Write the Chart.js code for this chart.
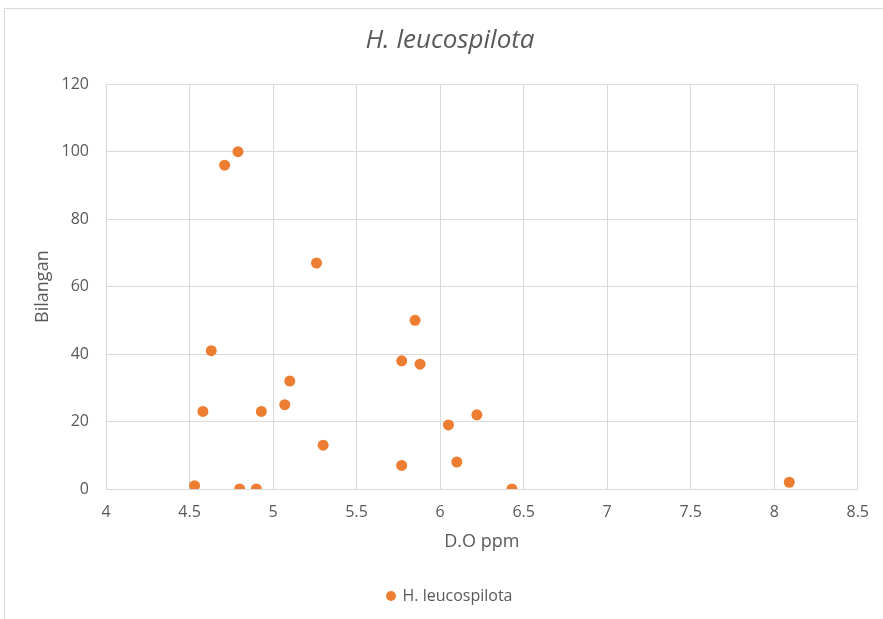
<!DOCTYPE html>
<html>
<head>
<meta charset="utf-8">
<script src="https://cdn.jsdelivr.net/npm/chart.js@4.4.1/dist/chart.umd.min.js"></script>
<style>
html,body{margin:0;padding:0;background:#fff;}
#wrap{position:absolute;left:0;top:0;width:883px;height:619px;}
</style>
</head>
<body>
<div id="wrap"><canvas id="c" width="883" height="619"></canvas></div>
<script>
const seriesName = "H. leucospilota";
const doPpm   = [4.53, 4.58, 4.63, 4.71, 4.79, 4.80, 4.90, 4.93, 5.07, 5.10, 5.26, 5.30, 5.77, 5.77, 5.85, 5.88, 6.05, 6.10, 6.22, 6.43, 8.09];
const bilangan = [1, 23, 41, 96, 100, 0, 0, 23, 25, 32, 67, 13, 38, 7, 50, 37, 19, 8, 22, 0, 2];
const xTicks = [4, 4.5, 5, 5.5, 6, 6.5, 7, 7.5, 8, 8.5];
const yTicks = [0, 20, 40, 60, 80, 100, 120];

const points = doPpm.map((x, i) => ({x: x, y: bilangan[i]}));

const frame = {
  id: 'frame',
  beforeDraw(chart) {
    const ctx = chart.ctx;
    ctx.save();
    ctx.fillStyle = '#fff';
    ctx.fillRect(0, 0, chart.width, chart.height);
    ctx.strokeStyle = '#d9d9d9';
    ctx.lineWidth = 1;
    ctx.strokeRect(4.5, 8.5, 900, 700);
    ctx.restore();
  }
};

const FONT = "'Open Sans', 'Liberation Sans', sans-serif";
const GREY = '#595959';

new Chart(document.getElementById('c'), {
  type: 'scatter',
  data: {
    datasets: [{
      label: seriesName,
      data: points,
      backgroundColor: '#ED7D31',
      borderColor: '#ED7D31',
      pointRadius: 5.5,
      pointHoverRadius: 5.5,
      borderWidth: 0
    }]
  },
  options: {
    responsive: false,
    animation: false,
    layout: { padding: { left: 17, right: 0, top: 0, bottom: 5 } },
    plugins: {
      title: {
        display: true,
        text: seriesName,
        color: GREY,
        font: { family: FONT, size: 26, style: 'italic', weight: 'normal' },
        padding: { top: 25, bottom: 28 }
      },
      legend: {
        display: true,
        position: 'bottom',
        labels: {
          usePointStyle: true,
          pointStyle: 'circle',
          boxWidth: 7,
          boxHeight: 7,
          color: GREY,
          font: { family: FONT, size: 16 },
          padding: 10
        }
      },
      tooltip: { enabled: false }
    },
    scales: {
      x: {
        type: 'linear',
        min: 4, max: 8.5,
        afterBuildTicks(axis) { axis.ticks = xTicks.map(v => ({value: v})); },
        afterFit(axis) { axis.height = 89; },
        grid: { color: '#d9d9d9', drawTicks: false },
        border: { color: '#d9d9d9' },
        ticks: { color: GREY, font: { family: FONT, size: 16 }, padding: 14, maxRotation: 0,
                 callback: v => String(v) },
        title: { display: true, text: 'D.O ppm', color: GREY,
                 font: { family: FONT, size: 18 }, padding: { top: 0, bottom: 25 } }
      },
      y: {
        type: 'linear',
        min: 0, max: 120,
        afterBuildTicks(axis) { axis.ticks = yTicks.map(v => ({value: v})); },
        afterFit(axis) { axis.width = 89; },
        grid: { color: '#d9d9d9', drawTicks: false },
        border: { color: '#d9d9d9' },
        ticks: { color: GREY, font: { family: FONT, size: 16 }, padding: 17,
                 callback: v => String(v) },
        title: { display: true, text: 'Bilangan', color: GREY,
                 font: { family: FONT, size: 18 }, padding: { top: 15, bottom: 0 } }
      },
      yRightSpace: {
        type: 'linear',
        position: 'right',
        min: 0, max: 1,
        afterFit(axis) { axis.width = 25; },
        grid: { display: false, drawTicks: false },
        border: { display: false },
        ticks: { display: false }
      }
    }
  },
  plugins: [frame]
});
</script>
</body>
</html>
